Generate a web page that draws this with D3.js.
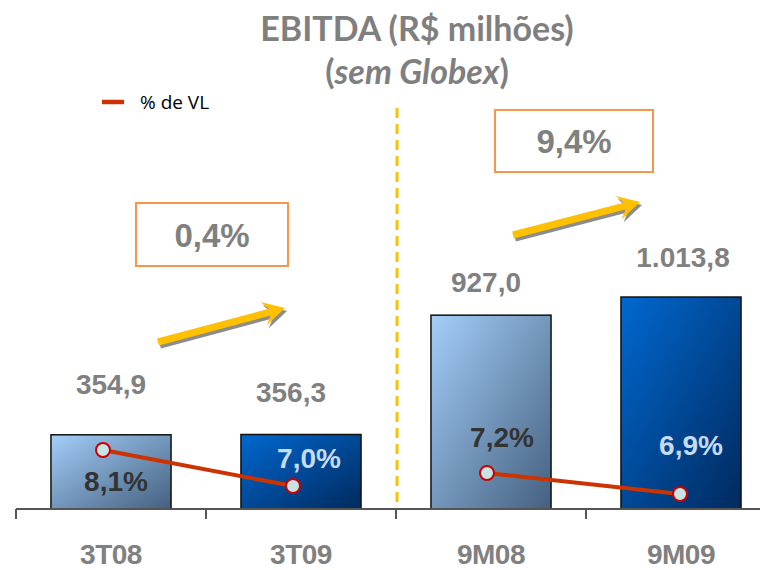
<!DOCTYPE html>
<html>
<head>
<meta charset="utf-8">
<script src="https://cdn.jsdelivr.net/npm/d3@7"></script>
<style>
  html, body { margin: 0; padding: 0; background: #ffffff; }
  svg { display: block; }
</style>
</head>
<body>
<div id="chart"></div>
<script>
// ==========================================================================
// DADOS
// ==========================================================================
const categories = ['3T08', '3T09', '9M08', '9M09'];
const ebitda = [354.9, 356.3, 927.0, 1013.8];
const pctVL = [8.1, 7.0, 7.2, 6.9];
const valueLabels = ['354,9', '356,3', '927,0', '1.013,8'];
const pctLabels = ['8,1%', '7,0%', '7,2%', '6,9%'];
const growthLabels = ['0,4%', '9,4%'];
const groups = [['3T08', '3T09'], ['9M08', '9M09']];

// ==========================================================================
// LAYOUT
// ==========================================================================
const W = 760, H = 570;
const baseY = 509;
const LABEL_FONT = '"Liberation Sans", Arial, sans-serif';
const GREY = '#808080';

// deslocamentos dos rótulos (dx, dy)
const valueLabelOffset = [[0, -41], [-10, -33], [-5, -23], [2, -30]];
const pctLabelOffset = [[5, 41], [8, -18], [11, -26], [10, -39]];
const pointDx = [-8, -8, -4, -1];
const boxes = [
    { x: 136, y: 203, w: 152, h: 63 },
    { x: 495, y: 110, w: 158, h: 62 }
];
const arrows = [
    { x1: 158, y1: 342, x2: 285, y2: 308 },
    { x1: 513, y1: 235, x2: 640, y2: 202 }
];

const svg = d3.select('#chart').append('svg')
    .attr('width', W)
    .attr('height', H);

// Gradientes das barras
const defs = svg.append('defs');
function addGradient(id, c0, c1) {
    const g = defs.append('linearGradient')
        .attr('id', id)
        .attr('x1', 0).attr('y1', 0)
        .attr('x2', 1).attr('y2', 1);
    g.append('stop').attr('offset', '0%').attr('stop-color', c0);
    g.append('stop').attr('offset', '100%').attr('stop-color', c1);
}
addGradient('gradLight', '#a4cef9', '#44607f');
addGradient('gradDark', '#0068d0', '#002a5e');

// Escalas
const x = d3.scaleBand()
    .domain(categories)
    .range([16, 776])
    .paddingInner(0.368)
    .paddingOuter(0.184);

const y = d3.scaleLinear()
    .domain([0, 1100])
    .range([baseY, 279]);

// uma escala de % para cada par (gráficos independentes no original)
const yPct = [
    d3.scaleLinear().domain([7.0, 8.1]).range([486, 450]),
    d3.scaleLinear().domain([6.9, 7.2]).range([494, 473])
];

const groupOf = c => groups.findIndex(g => g.includes(c));
const isDark = i => i % 2 === 1;

// ==========================================================================
// TÍTULO
// ==========================================================================
svg.append('text')
    .attr('x', 417)
    .attr('y', 41)
    .attr('text-anchor', 'middle')
    .style('font-family', 'Lato, sans-serif')
    .style('font-weight', 'bold')
    .style('font-size', '34px')
    .style('fill', '#7f7f7f')
    .text('EBITDA (R$ milhões)');

const sub = svg.append('text')
    .attr('x', 417)
    .attr('y', 84)
    .attr('text-anchor', 'middle')
    .style('font-family', 'Lato, sans-serif')
    .style('font-weight', 'bold')
    .style('font-size', '34px')
    .style('fill', '#7f7f7f');
sub.append('tspan').text('(');
sub.append('tspan').style('font-style', 'italic').text('sem Globex');
sub.append('tspan').text(')');

// Legenda
const legend = svg.append('g').attr('transform', 'translate(102,102)');
legend.append('line')
    .attr('x1', 0).attr('x2', 22)
    .attr('stroke', '#cc3300')
    .attr('stroke-width', 4.5);
legend.append('text')
    .attr('x', 38)
    .attr('y', 7)
    .style('font-family', '"Open Sans", sans-serif')
    .style('font-size', '19px')
    .style('fill', '#000')
    .text('% de VL');

// Linha divisória tracejada
svg.append('line')
    .attr('x1', 397).attr('x2', 397)
    .attr('y1', 108).attr('y2', baseY)
    .attr('stroke', '#ffc000')
    .attr('stroke-width', 3)
    .attr('stroke-dasharray', '10,6');

// ==========================================================================
// BARRAS
// ==========================================================================
svg.selectAll('.bar')
    .data(categories)
    .enter().append('rect')
    .attr('class', 'bar')
    .attr('x', d => x(d))
    .attr('y', (d, i) => y(ebitda[i]))
    .attr('width', x.bandwidth())
    .attr('height', (d, i) => baseY - y(ebitda[i]))
    .attr('fill', (d, i) => isDark(i) ? 'url(#gradDark)' : 'url(#gradLight)')
    .attr('stroke', '#111')
    .attr('stroke-width', 1.5);

// Valores acima das barras
svg.selectAll('.value-label')
    .data(categories)
    .enter().append('text')
    .attr('class', 'value-label')
    .attr('x', (d, i) => x(d) + x.bandwidth() / 2 + valueLabelOffset[i][0])
    .attr('y', (d, i) => y(ebitda[i]) + valueLabelOffset[i][1])
    .attr('text-anchor', 'middle')
    .style('font-family', LABEL_FONT)
    .style('font-weight', 'bold')
    .style('font-size', '28px')
    .style('fill', GREY)
    .text((d, i) => valueLabels[i]);

// Eixo X
const axis = svg.append('g').attr('class', 'x-axis');
axis.append('line')
    .attr('x1', 16).attr('x2', W)
    .attr('y1', baseY).attr('y2', baseY)
    .attr('stroke', '#555')
    .attr('stroke-width', 2);
axis.selectAll('.tick-mark')
    .data(categories)
    .enter().append('line')
    .attr('class', 'tick-mark')
    .attr('x1', d => x(d) - (x.step() - x.bandwidth()) / 2)
    .attr('x2', d => x(d) - (x.step() - x.bandwidth()) / 2)
    .attr('y1', baseY).attr('y2', baseY + 10)
    .attr('stroke', '#555')
    .attr('stroke-width', 2);
axis.selectAll('.cat-label')
    .data(categories)
    .enter().append('text')
    .attr('class', 'cat-label')
    .attr('x', d => x(d) + x.bandwidth() / 2)
    .attr('y', 564)
    .attr('text-anchor', 'middle')
    .style('font-family', LABEL_FONT)
    .style('font-weight', 'bold')
    .style('font-size', '28px')
    .style('letter-spacing', '-0.5px')
    .style('fill', GREY)
    .text(d => d);

// ==========================================================================
// LINHA % DE VL
// ==========================================================================
const px = (d, i) => x(d) + x.bandwidth() / 2 + pointDx[i];
const py = (d, i) => yPct[groupOf(d)](pctVL[i]);

groups.forEach(g => {
    const pts = g.map(c => {
        const i = categories.indexOf(c);
        return [px(c, i), py(c, i)];
    });
    svg.append('path')
        .attr('d', d3.line()(pts))
        .attr('fill', 'none')
        .attr('stroke', '#cc3300')
        .attr('stroke-width', 4);
});

svg.selectAll('.pt')
    .data(categories)
    .enter().append('circle')
    .attr('class', 'pt')
    .attr('cx', px)
    .attr('cy', py)
    .attr('r', 7)
    .attr('fill', '#c6e4e4')
    .attr('stroke', '#cc0000')
    .attr('stroke-width', 2);

svg.selectAll('.pct-label')
    .data(categories)
    .enter().append('text')
    .attr('class', 'pct-label')
    .attr('x', (d, i) => x(d) + x.bandwidth() / 2 + pctLabelOffset[i][0])
    .attr('y', (d, i) => py(d, i) + pctLabelOffset[i][1])
    .attr('text-anchor', 'middle')
    .style('font-family', LABEL_FONT)
    .style('font-weight', 'bold')
    .style('font-size', '28px')
    .style('fill', (d, i) => isDark(i) ? '#c6dcf6' : '#333333')
    .text((d, i) => pctLabels[i]);

// ==========================================================================
// CAIXAS DE CRESCIMENTO E SETAS
// ==========================================================================
boxes.forEach((b, i) => {
    svg.append('rect')
        .attr('x', b.x).attr('y', b.y)
        .attr('width', b.w).attr('height', b.h)
        .attr('fill', '#fff')
        .attr('stroke', '#f79646')
        .attr('stroke-width', 2);
    svg.append('text')
        .attr('x', b.x + b.w / 2)
        .attr('y', b.y + b.h / 2 + 12)
        .attr('text-anchor', 'middle')
        .style('font-family', LABEL_FONT)
        .style('font-weight', 'bold')
        .style('font-size', '33px')
        .style('fill', GREY)
        .text(growthLabels[i]);
});

function arrowPath(a) {
    const L = Math.hypot(a.x2 - a.x1, a.y2 - a.y1);
    const pts = [[0, -3.5], [L - 16, -3.5], [L - 22, -12], [L, 0], [L - 22, 12], [L - 16, 3.5], [0, 3.5]];
    return 'M' + pts.map(p => p.join(',')).join('L') + 'Z';
}

arrows.forEach(a => {
    const ang = Math.atan2(a.y2 - a.y1, a.x2 - a.x1) * 180 / Math.PI;
    svg.append('path')
        .attr('d', arrowPath(a))
        .attr('transform', `translate(${a.x1 + 2},${a.y1 + 3}) rotate(${ang})`)
        .attr('fill', '#8c8c8c');
    svg.append('path')
        .attr('d', arrowPath(a))
        .attr('transform', `translate(${a.x1},${a.y1}) rotate(${ang})`)
        .attr('fill', '#ffc000');
});
</script>
</body>
</html>
